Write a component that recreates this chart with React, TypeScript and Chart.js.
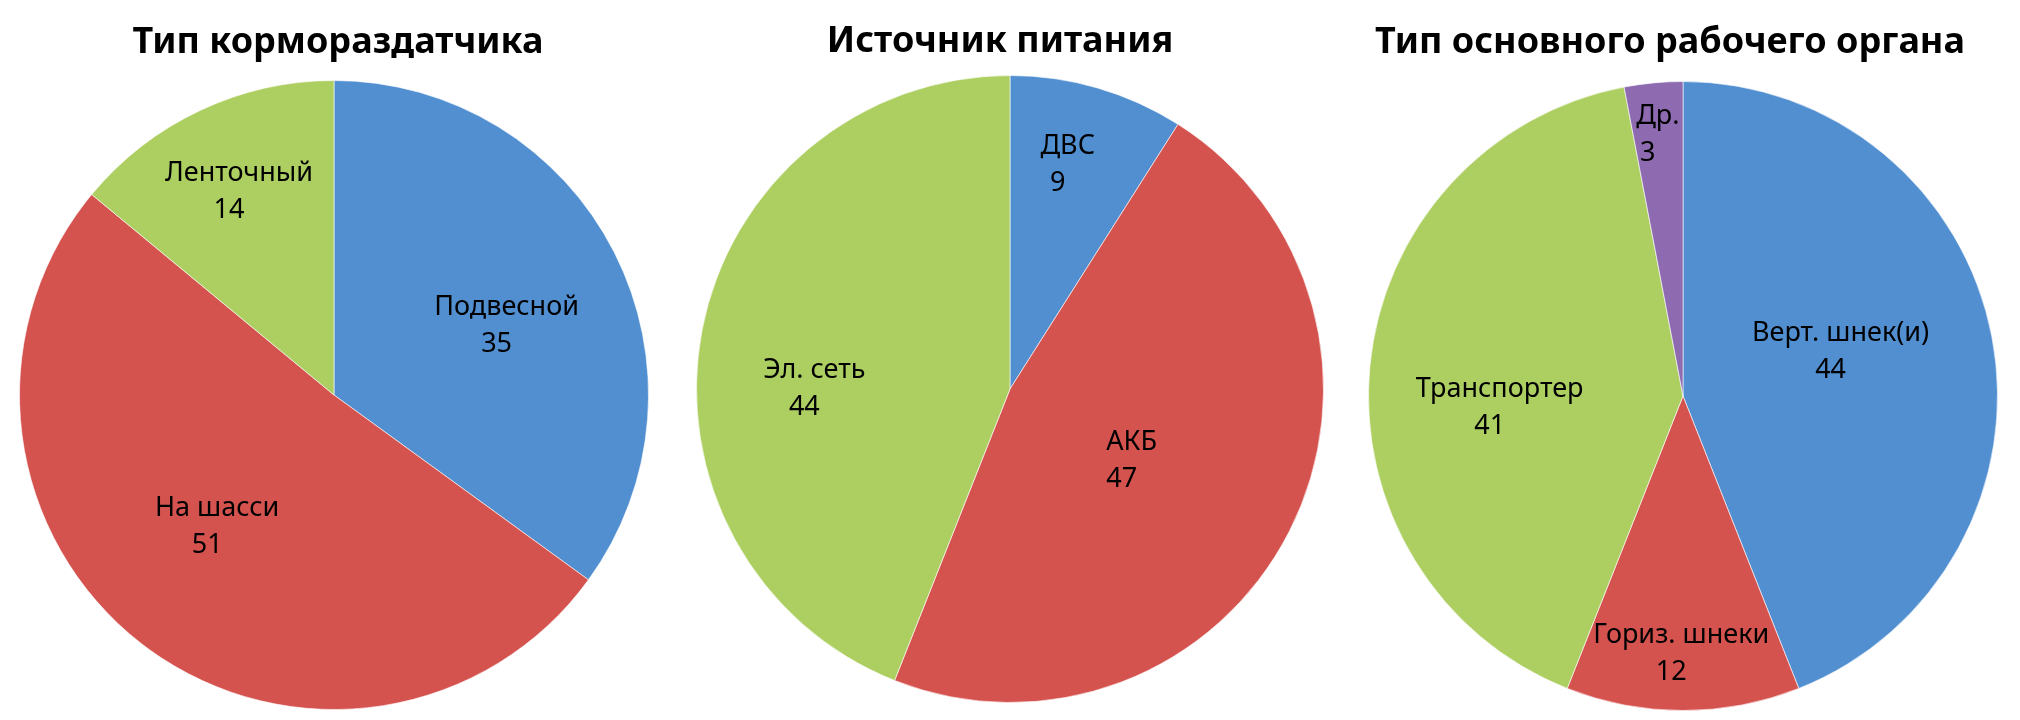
import React, { useEffect, useRef } from "react";
import { Chart, registerables } from "chart.js";

Chart.register(...registerables);

// ---- data ----
const feederTitle = "Тип кормораздатчика";
const feederLabels = ["Подвесной", "На шасси", "Ленточный"];
const feederValues = [35, 51, 14];

const powerTitle = "Источник питания";
const powerLabels = ["ДВС", "АКБ", "Эл. сеть"];
const powerValues = [9, 47, 44];

const organTitle = "Тип основного рабочего органа";
const organLabels = ["Верт. шнек(и)", "Гориз. шнеки", "Транспортер", "Др."];
const organValues = [44, 12, 41, 3];

// ---- styles ----
const BLUE = "#518FD1";
const RED = "#D5534F";
const GREEN = "#ADCF62";
const PURPLE = "#8E6BB1";

type Placement = [number, number][]; // [radius fraction, angle shift in degrees]

function makeLabelPlugin(placement: Placement, title: string, titleX: number, titleY: number) {
  return {
    id: "sliceLabels",
    afterDatasetsDraw(chart: any) {
      const meta = chart.getDatasetMeta(0);
      const ctx = chart.ctx as CanvasRenderingContext2D;
      const labels = chart.data.labels as string[];
      const values = chart.data.datasets[0].data as number[];
      const lh = 37;
      const shift = 10;
      ctx.save();
      ctx.font = "27px 'Noto Sans'";
      ctx.fillStyle = "#000";
      ctx.textAlign = "center";
      ctx.textBaseline = "middle";
      meta.data.forEach((arc: any, i: number) => {
        const p = arc.getProps(["x", "y", "startAngle", "endAngle", "outerRadius"], true);
        const [frac, dDeg] = placement[i];
        const a = (p.startAngle + p.endAngle) / 2 + (dDeg * Math.PI) / 180;
        const px = p.x + Math.cos(a) * p.outerRadius * frac;
        const py = p.y + Math.sin(a) * p.outerRadius * frac;
        ctx.fillText(String(labels[i]), px + shift / 2, py - lh / 2);
        ctx.fillText(String(values[i]), px - shift / 2, py + lh / 2);
      });
      // chart title
      ctx.font = "bold 36px 'Noto Sans'";
      ctx.textBaseline = "alphabetic";
      ctx.fillText(title, titleX, titleY);
      ctx.restore();
    },
  };
}

interface PieProps {
  title: string;
  labels: string[];
  values: number[];
  colors: string[];
  placement: Placement;
  left: number;
  width: number;
  titleX: number;
  titleY: number;
  padding: { left: number; right: number; top: number; bottom: number };
}

function PieChart(props: PieProps) {
  const ref = useRef<HTMLCanvasElement | null>(null);
  useEffect(() => {
    if (!ref.current) return;
    const chart = new Chart(ref.current, {
      type: "pie",
      data: {
        labels: props.labels,
        datasets: [
          {
            data: props.values,
            backgroundColor: props.colors,
            borderColor: "rgba(255,255,255,0.6)",
            borderWidth: 1,
          },
        ],
      },
      options: {
        responsive: false,
        maintainAspectRatio: false,
        animation: false,
        devicePixelRatio: 1,
        layout: { padding: props.padding },
        plugins: {
          legend: { display: false },
          tooltip: { enabled: false },
          title: { display: false },
        },
      },
      plugins: [makeLabelPlugin(props.placement, props.title, props.titleX, props.titleY)],
    });
    return () => chart.destroy();
  }, []);
  return (
    <canvas
      ref={ref}
      width={props.width}
      height={720}
      style={{ position: "absolute", left: props.left, top: 0, width: props.width, height: 720 }}
    />
  );
}

export default function App() {
  return (
    <div style={{ position: "absolute", left: 0, top: 0, width: 2020, height: 720, background: "#fff", overflow: "hidden" }}>
      <PieChart
        title={feederTitle}
        labels={feederLabels}
        values={feederValues}
        colors={[BLUE, RED, GREEN]}
        placement={[[0.576, 4.7], [0.57, 5], [0.72, -1]]}
        left={0}
        width={676}
        titleX={338}
        titleY={53}
        padding={{ left: 19, right: 27, top: 80, bottom: 10 }}
      />
      <PieChart
        title={powerTitle}
        labels={powerLabels}
        values={powerValues}
        colors={[BLUE, RED, GREEN]}
        placement={[[0.736, -3], [0.437, 4.6], [0.64, -10.8]]}
        left={670}
        width={660}
        titleX={330}
        titleY={52}
        padding={{ left: 26, right: 6, top: 75, bottom: 17 }}
      />
      <PieChart
        title={organTitle}
        labels={organLabels}
        values={organValues}
        colors={[BLUE, RED, GREEN, PURPLE]}
        placement={[[0.505, -5.3], [0.82, 1.5], [0.6, -9], [0.835, -1.2]]}
        left={1344}
        width={656}
        titleX={326}
        titleY={53}
        padding={{ left: 24, right: 2, top: 81, bottom: 9 }}
      />
    </div>
  );
}
